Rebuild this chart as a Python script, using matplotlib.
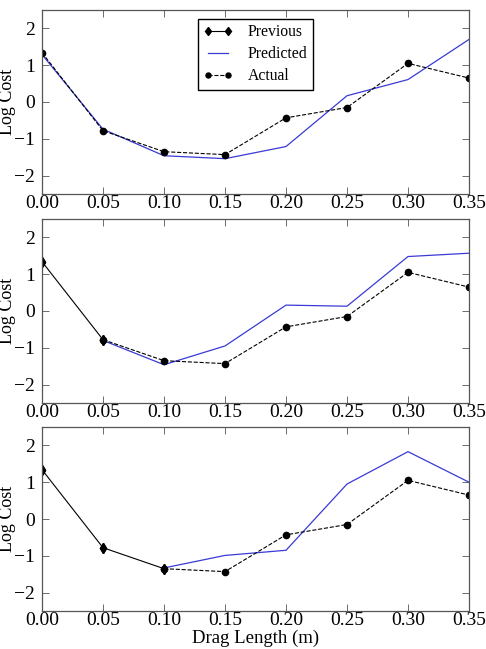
import matplotlib
matplotlib.use("Agg")
import matplotlib.pyplot as plt

plt.rcParams['font.family'] = ['Liberation Serif', 'DejaVu Serif']

x = [0.00, 0.05, 0.10, 0.15, 0.20, 0.25, 0.30, 0.35]
actual = [1.34, -0.78, -1.35, -1.43, -0.43, -0.15, 1.05, 0.65]

# predicted curves, one per panel (panel k starts predicting at x index k)
pred_start = [0, 1, 2]
predicted = [
    [1.29, -0.74, -1.46, -1.54, -1.21, 0.17, 0.61, 1.70],
    [-0.80, -1.46, -0.95, 0.16, 0.13, 1.48, 1.57],
    [-1.33, -0.99, -0.85, 0.95, 1.83, 1.00],
]

xticks = [0.00, 0.05, 0.10, 0.15, 0.20, 0.25, 0.30, 0.35]
yticks = [-2, -1, 0, 1, 2]

fig = plt.figure(figsize=(4.86, 6.49), dpi=100)
W, H = 486.0, 649.0
tops = [10, 219, 427]
axh = 184

for i in range(3):
    ax = fig.add_axes([42 / W, 1 - (tops[i] + axh) / H, 427 / W, axh / H])
    s = pred_start[i]
    if s > 0:
        ax.plot(x[:s + 1], actual[:s + 1], color='black', lw=0.8,
                marker='d', ms=5.5, label='Previous')
    else:
        ax.plot([], [], color='black', lw=0.8, marker='d', ms=5.5, label='Previous')
    ax.plot(x[s:], predicted[i], color='#3a3ad6', lw=0.9, label='Predicted')
    ax.plot(x[s:], actual[s:], color='black', lw=0.8, ls='--',
            marker='o', ms=4.5, label='Actual')
    if s > 0:
        ax.plot(x[:s + 1], actual[:s + 1], color='black', lw=0, marker='d', ms=5.5)

    ax.set_xlim(0, 0.35)
    ax.set_ylim(-2.5, 2.5)
    ax.set_xticks(xticks)
    ax.set_yticks(yticks)
    ax.set_xticklabels(['%.2f' % t for t in xticks], fontsize=14)
    ax.set_yticklabels([('\u2212%d' % -t) if t < 0 else '%d' % t for t in yticks], fontsize=14)
    ax.tick_params(direction='in', top=True, right=True, length=5, width=0.6,
                   color='#555555')
    ax.tick_params(axis='x', pad=1)
    ax.tick_params(axis='y', pad=5)
    for sp in ax.spines.values():
        sp.set_color('#555555')
        sp.set_linewidth(0.9)
    ax.set_ylabel('Log Cost', fontsize=13)
    ax.yaxis.set_label_coords(-0.061, 0.5)
    if i == 0:
        ax.legend(loc='upper center', numpoints=2, fontsize=11.3, fancybox=False,
                  edgecolor='black', framealpha=1, handlelength=1.9,
                  borderpad=0.35, labelspacing=0.38, handletextpad=0.95,
                  markerscale=0.8, borderaxespad=0, bbox_to_anchor=(0.5, 0.952))
    if i == 2:
        ax.set_xlabel('Drag Length (m)', fontsize=13.5, labelpad=0)

fig.savefig('out.png', dpi=100)
